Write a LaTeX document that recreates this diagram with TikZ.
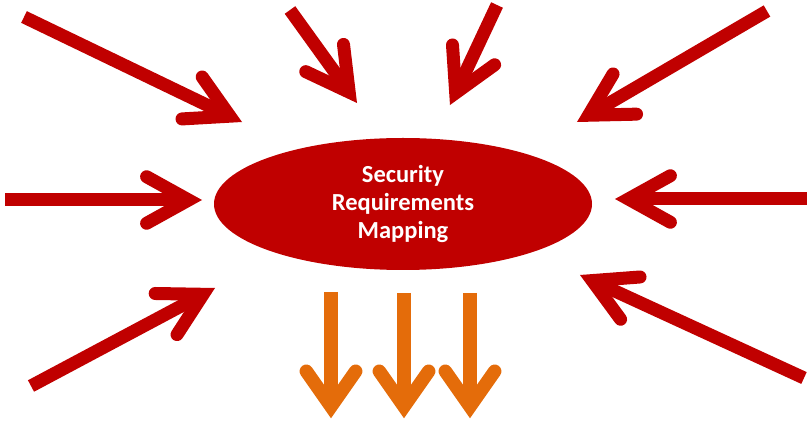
\documentclass[tikz,border=0pt]{standalone}
\usepackage{fontspec}
\setmainfont{Carlito}
\usetikzlibrary{calc,shapes.geometric}
\definecolor{myred}{HTML}{C00000}
\definecolor{myorange}{HTML}{E46C0A}
\tikzset{
  redarr/.style={draw=myred, line width=13pt},
  orarr/.style={draw=myorange, line width=13.5pt},
  hub/.style={ellipse, fill=myred, minimum width=378pt, minimum height=132pt, inner sep=0pt,
    text=white, font=\bfseries\fontsize{24.5}{28}\selectfont, align=center}
}
% #1 style, #2 start, #3 tip, #4 half angle, #5 barb length, #6 miter offset
\newcommand{\headarrow}[6]{%
  \path ($(#3)!#6!(#2)$) coordinate (#3v);
  \draw[#1] (#2) -- (#3v);
  \draw[#1, line cap=round, line join=miter] ($(#3v)!#5!#4:(#2)$) -- (#3v) -- ($(#3v)!#5!-#4:(#2)$);
}
\begin{document}
\begin{tikzpicture}[x=1pt,y=-1pt]
\useasboundingbox (0,0) rectangle (807,427);
\node[hub] (hub) at (403,204) {Security\\Requirements\\Mapping};
% red incoming arrows
\coordinate (s1) at (24,17);   \coordinate (t1) at (242,122);
\coordinate (s2) at (290,10);  \coordinate (t2) at (357,103);
\coordinate (s3) at (497,5);   \coordinate (t3) at (450,105);
\coordinate (s4) at (767,11);  \coordinate (t4) at (577,122);
\coordinate (s5) at (5,200);   \coordinate (t5) at (202,200);
\coordinate (s6) at (807,199); \coordinate (t6) at (615,199);
\coordinate (s7) at (31,386);  \coordinate (t7) at (215,288);
\coordinate (s8) at (804,378); \coordinate (t8) at (580,275);
\foreach \i in {1,...,8}{
  \headarrow{redarr}{s\i}{t\i}{29}{48pt}{13.4pt}
}
% orange outgoing arrows
\coordinate (o1) at (331,292); \coordinate (p1) at (331,418);
\coordinate (o2) at (404,293); \coordinate (p2) at (404,418);
\coordinate (o3) at (470,293); \coordinate (p3) at (470,418);
\foreach \i in {1,2,3}{
  \headarrow{orarr}{o\i}{p\i}{35}{43pt}{11.5pt}
}
\end{tikzpicture}
\end{document}
